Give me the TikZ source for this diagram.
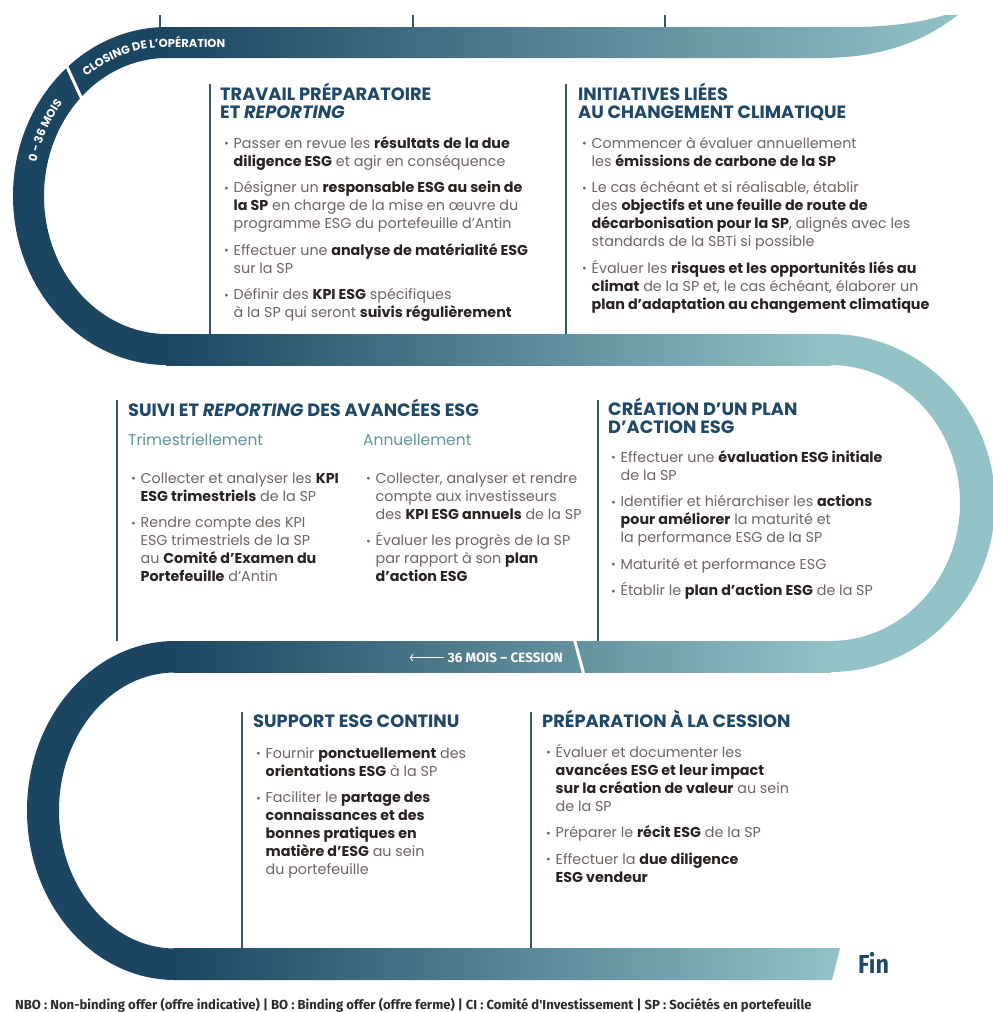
\documentclass[tikz,border=0pt]{standalone}
\usepackage{fontspec}
\setmainfont{Poppins}
\newfontfamily\legfont{Fira Sans}
\newfontfamily\condfont[FakeStretch=0.9]{Fira Sans}
\usepackage{xcolor}
\usetikzlibrary{arrows.meta, calc, positioning, decorations.text}

\definecolor{navy}{HTML}{1C4561}
\definecolor{lightteal}{HTML}{93C2C7}
\definecolor{titleblue}{HTML}{1F4866}
\definecolor{subteal}{HTML}{5E9499}
\definecolor{txtgray}{HTML}{6F6461}
\definecolor{txtdark}{HTML}{2A2220}
\definecolor{rulecol}{HTML}{34566F}
\definecolor{legcol}{HTML}{2B2B2B}

\newcommand{\hl}[1]{{\bfseries\color{txtdark}#1}}
\newcommand{\itm}{\makebox[9.5pt][l]{\raisebox{0.6pt}{\fontsize{11.5}{11.5}\selectfont •}}}
\newcommand{\cnt}{\hspace*{9.5pt}}
\newcommand{\ttlstrut}{\rule{0pt}{20pt}}
\newcommand{\bdystrut}{\rule{0pt}{16pt}}
\newcommand{\arcfont}{\fontsize{11.5}{11.5}\selectfont\bfseries}

\tikzset{
  ttl/.style={anchor=north west, yshift=20pt, inner sep=0pt, align=left,
    text=titleblue, font=\fontsize{17.8}{18}\selectfont\bfseries},
  bdy/.style={anchor=north west, yshift=16pt, inner sep=0pt, align=left,
    text=txtgray, font=\fontsize{14.3}{18}\selectfont},
  sub/.style={anchor=base west, inner sep=0pt, text=subteal,
    font=\fontsize{15.5}{17}\selectfont},
  divider/.style={rulecol, line width=1.1pt},
  band/.style={left color=navy, right color=lightteal},
  gap/.style={white, line width=3pt},
  cesstxt/.style={inner sep=0pt, text=white, font=\legfont\fontsize{13.5}{13.5}\selectfont\bfseries},
  fintxt/.style={inner sep=0pt, text=titleblue, font=\condfont\fontsize{26}{26}\selectfont\bfseries},
  legtxt/.style={inner sep=0pt, text=legcol, font=\legfont\fontsize{13.1}{13}\selectfont\bfseries}
}

\begin{document}
\begin{tikzpicture}[x=1pt, y=1pt]
  \useasboundingbox (0,0) rectangle (993,-1012);

  % Straight parts of the ribbon
  \shade[band] (166,-27) -- (850,-27) .. controls (893,-27) and (922,-22) .. (945,-15)
    -- (958,-15) .. controls (925,-40) and (885,-58) .. (820,-58) -- (166,-58) -- cycle;
  \shade[band] (166,-334) rectangle (831,-365);
  \shade[band] (174,-641) rectangle (831,-672);
  \shade[band] (174,-948) -- (840,-948) -- (832,-980) -- (174,-980) -- cycle;

  % Turns of the ribbon
  \fill[navy] (167,-27) arc[start angle=90, end angle=270, x radius=154, y radius=169]
    -- (167,-334) arc[start angle=270, end angle=90, x radius=123, y radius=138] -- cycle;
  \fill[lightteal] (830,-334) arc[start angle=90, end angle=-90, x radius=165, y radius=169]
    -- (830,-641) arc[start angle=-90, end angle=90, x radius=130, y radius=138] -- cycle;
  \fill[navy] (175,-641) arc[start angle=90, end angle=270, x radius=148, y radius=169.5]
    -- (175,-948.5) arc[start angle=270, end angle=90, x radius=116, y radius=138] -- cycle;

  % Labels along the first turn
  \path[shift={(167,-196)}, decorate, decoration={text along path, text color=white,
      text={|\arcfont|0 - 36 MOIS}}]
    (167:134 and 149) arc[start angle=167, end angle=125, x radius=134, y radius=149];
  \path[shift={(167,-196)}, decorate, decoration={text along path, text color=white,
      text={|\arcfont|CLOSING DE L'OPÉRATION}}]
    (127:134 and 149) arc[start angle=127, end angle=90, x radius=134, y radius=149]
    -- (150,149);
  \draw[gap, shift={(167,-196)}] (135:119 and 134) -- (130:158 and 173);
  \draw[gap] (574,-638) -- (584,-675);

  % Column rules
  \foreach \x in {160,413,665}
    \draw[divider] (\x,-15) -- (\x,-27);
  \draw[divider] (210,-84) -- (210,-334);
  \draw[divider] (566,-84) -- (566,-334);
  \draw[divider] (117,-400) -- (117,-641);
  \draw[divider] (598,-400) -- (598,-641);
  \draw[divider] (242,-712) -- (242,-948);
  \draw[divider] (531,-712) -- (531,-948);

  % Upper row
  \node[ttl] (travT) at (220,-100) {\ttlstrut TRAVAIL PRÉPARATOIRE\\ET \textit{REPORTING}};
  \node[bdy] (travB) at (224,-148) {\bdystrut\itm Passer en revue les \hl{résultats de la due}\\
    \cnt\hl{diligence ESG} et agir en conséquence\\[8.5pt]
    \itm Désigner un \hl{responsable ESG au sein de}\\
    \cnt\hl{la SP} en charge de la mise en œuvre du\\
    \cnt programme ESG du portefeuille d'Antin\\[8.5pt]
    \itm Effectuer une \hl{analyse de matérialité ESG}\\
    \cnt sur la SP\\[8.5pt]
    \itm Définir des \hl{KPI ESG} spécifiques\\
    \cnt à la SP qui seront \hl{suivis régulièrement}};

  \node[ttl] (climT) at (578,-100) {\ttlstrut INITIATIVES LIÉES\\AU CHANGEMENT CLIMATIQUE};
  \node[bdy] (climB) at (582,-148) {\bdystrut\itm Commencer à évaluer annuellement\\
    \cnt les \hl{émissions de carbone de la SP}\\[8.5pt]
    \itm Le cas échéant et si réalisable, établir\\
    \cnt des \hl{objectifs et une feuille de route de}\\
    \cnt\hl{décarbonisation pour la SP}, alignés avec les\\
    \cnt standards de la SBTi si possible\\[8.5pt]
    \itm Évaluer les \hl{risques et les opportunités liés au}\\
    \cnt\hl{climat} de la SP et, le cas échéant, élaborer un\\
    \cnt\hl{plan d'adaptation au changement climatique}};

  % Middle row
  \node[ttl] (suiviT) at (128,-416) {\ttlstrut SUIVI ET \textit{REPORTING} DES AVANCÉES ESG};
  \node[sub] (trimS) at (128,-445) {Trimestriellement};
  \node[sub] (annS) at (363,-445) {Annuellement};
  \node[bdy] (trimB) at (131,-483) {\bdystrut\itm Collecter et analyser les \hl{KPI}\\
    \cnt\hl{ESG trimestriels} de la SP\\[8.5pt]
    \itm Rendre compte des KPI\\
    \cnt ESG trimestriels de la SP\\
    \cnt au \hl{Comité d'Examen du}\\
    \cnt\hl{Portefeuille} d'Antin};
  \node[bdy] (annB) at (366,-483) {\bdystrut\itm Collecter, analyser et rendre\\
    \cnt compte aux investisseurs\\
    \cnt des \hl{KPI ESG annuels} de la SP\\[8.5pt]
    \itm Évaluer les progrès de la SP\\
    \cnt par rapport à son \hl{plan}\\
    \cnt\hl{d'action ESG}};

  \node[ttl] (creaT) at (608,-415) {\ttlstrut CRÉATION D'UN PLAN\\D'ACTION ESG};
  \node[bdy] (creaB) at (611,-462) {\bdystrut\itm Effectuer une \hl{évaluation ESG initiale}\\
    \cnt de la SP\\[8.5pt]
    \itm Identifier et hiérarchiser les \hl{actions}\\
    \cnt\hl{pour améliorer} la maturité et\\
    \cnt la performance ESG de la SP\\[8.5pt]
    \itm Maturité et performance ESG\\[8.5pt]
    \itm Établir le \hl{plan d'action ESG} de la SP};

  \node[cesstxt, anchor=base east] (cess) at (563,-662.5) {36 MOIS – CESSION};
  \coordinate (arrtip) at ($(cess.west)+(-38,0)$);
  \draw[white, line width=0.8pt, -{Straight Barb[length=3pt, width=7pt]}]
    ([xshift=-4pt]cess.west) -- (arrtip);

  % Lower row
  \node[ttl] (suppT) at (253,-727) {\ttlstrut SUPPORT ESG CONTINU};
  \node[bdy] (suppB) at (256,-758) {\bdystrut\itm Fournir \hl{ponctuellement} des\\
    \cnt\hl{orientations ESG} à la SP\\[8.5pt]
    \itm Faciliter le \hl{partage des}\\
    \cnt\hl{connaissances et des}\\
    \cnt\hl{bonnes pratiques en}\\
    \cnt\hl{matière d'ESG} au sein\\
    \cnt du portefeuille};

  \node[ttl] (prepT) at (542,-727) {\ttlstrut PRÉPARATION À LA CESSION};
  \node[bdy] (prepB) at (546,-757) {\bdystrut\itm Évaluer et documenter les\\
    \cnt\hl{avancées ESG et leur impact}\\
    \cnt\hl{sur la création de valeur} au sein\\
    \cnt de la SP\\[8.5pt]
    \itm Préparer le \hl{récit ESG} de la SP\\[8.5pt]
    \itm Effectuer la \hl{due diligence}\\
    \cnt\hl{ESG vendeur}};

  \node[fintxt, anchor=base west] (fin) at (858,-973) {Fin};

  % Footnote
  \node[legtxt, anchor=base west] (legend) at (15,-1009) {NBO : Non-binding offer (offre indicative) | BO : Binding offer (offre ferme) | CI : Comité d'Investissement | SP : Sociétés en portefeuille};
\end{tikzpicture}
\end{document}
